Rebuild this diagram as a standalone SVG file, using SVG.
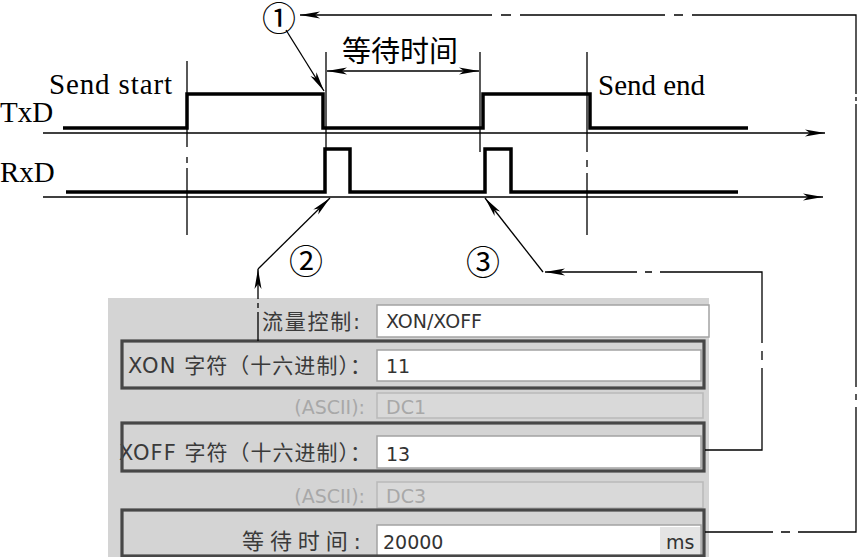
<svg xmlns="http://www.w3.org/2000/svg" width="858" height="557" viewBox="0 0 858 557">
<defs>
<marker id="arr" viewBox="-21 -5 22 10" refX="0" refY="0" markerWidth="22" markerHeight="10" markerUnits="userSpaceOnUse" orient="auto-start-reverse">
<path d="M-20,-3.5 L0,0 L-20,3.5 L-15,0 Z" fill="#000"/>
</marker>
<style>
.thin{fill:none;stroke:#000;stroke-width:1.3}
.wave{fill:none;stroke:#000;stroke-width:3.5;stroke-linejoin:miter}
.serif{font-family:"Liberation Serif","Times New Roman",serif;font-size:29px;fill:#000}
.cjk{font-family:"Noto Sans CJK SC",sans-serif;fill:#000}
.num{font-family:"Noto Sans CJK SC",sans-serif;font-size:34px;fill:#000;text-anchor:middle}
.ui{font-family:"DejaVu Sans","Noto Sans CJK SC",sans-serif;font-size:19px;fill:#333}
.lbl{font-family:"DejaVu Sans","Noto Sans CJK SC",sans-serif;font-size:21px;fill:#3a3a3a}
.dim{font-family:"DejaVu Sans",sans-serif;font-size:19px;fill:#a8a8a8}
.box{fill:none;stroke:#474747;stroke-width:3.2}
.field{fill:#fff;stroke:#a3a3a3;stroke-width:1.5}
.dfield{fill:#d9d9d9;stroke:#b9b9b9;stroke-width:1.5}
</style>
</defs>
<rect width="858" height="557" fill="#fff"/>

<g id="panel">
<rect x="108" y="298" width="601" height="259" fill="#d4d4d4"/>
<g id="row-flow">
<rect class="field" x="377" y="305" width="332" height="32"/>
<text class="lbl" x="262" y="329" textLength="98">流量控制:</text>
<text class="ui" x="386" y="328">XON/XOFF</text>
</g>
<g id="row-xon">
<rect class="field" x="377" y="350" width="324" height="31"/>
<text class="lbl" x="128" y="373" textLength="243">XON 字符（十六进制）：</text>
<text class="ui" x="386" y="373">11</text>
<rect class="box" x="122" y="341" width="582" height="47"/>
</g>
<g id="row-xon-ascii">
<rect class="dfield" x="377" y="393" width="326" height="25"/>
<text class="dim" x="365" y="414" text-anchor="end">(ASCII):</text>
<text class="dim" x="386" y="414">DC1</text>
</g>
<g id="row-xoff">
<rect class="field" x="377" y="436" width="324" height="32"/>
<text class="lbl" x="119" y="460" textLength="252">XOFF 字符（十六进制）：</text>
<text class="ui" x="386" y="461">13</text>
<rect class="box" x="122" y="423" width="582" height="48"/>
</g>
<g id="row-xoff-ascii">
<rect class="dfield" x="377" y="482" width="326" height="26"/>
<text class="dim" x="365" y="503" text-anchor="end">(ASCII):</text>
<text class="dim" x="386" y="503">DC3</text>
</g>
<g id="row-wait">
<rect class="field" x="377" y="525" width="324" height="34"/>
<rect x="660" y="527" width="40" height="30" fill="#e4e4e4"/>
<text class="lbl" x="242" y="549" style="font-size:22px" textLength="119">等待时间:</text>
<text class="ui" x="383" y="549">20000</text>
<text class="ui" x="666" y="549">ms</text>
<rect class="box" x="122" y="510" width="582" height="46"/>
</g>
</g>

<g id="txd">
<text class="serif" x="0" y="122">TxD</text>
<path class="thin" d="M43,133 H825" marker-end="url(#arr)"/>
<path class="wave" d="M63,128 H187 V94 H323 V128 H483 V94 H590 V128 H748"/>
</g>
<g id="rxd">
<text class="serif" x="0" y="182">RxD</text>
<path class="thin" d="M43,197 H823" marker-end="url(#arr)"/>
<path class="wave" d="M66,192 H325 V149 H350 V192 H485 V149 H511 V192 H738"/>
</g>
<g id="send-start">
<text class="serif" x="49" y="94" textLength="123">Send start</text>
<path class="thin" d="M187,61 V235" stroke-dasharray="86 10 6 5 200"/>
</g>
<g id="send-end">
<text class="serif" x="598" y="95">Send end</text>
<path class="thin" d="M587,52 V235" stroke-dasharray="100 8 7 6 200"/>
</g>
<g id="wait-dim">
<text class="cjk" x="342" y="62" style="font-size:29px" textLength="116">等待时间</text>
<path class="thin" d="M326,52 V148"/>
<path class="thin" d="M480,52 V152"/>
<path class="thin" d="M327,71 H479" marker-start="url(#arr)" marker-end="url(#arr)"/>
</g>
<g id="n1"><text class="num" x="279" y="31">①</text></g>
<g id="n2"><text class="num" x="306" y="274">②</text></g>
<g id="n3"><text class="num" x="483" y="275">③</text></g>

<g id="connectors">
<path class="thin" d="M705,532 H856 V15 H300" stroke-dasharray="68 8 9 8 183 7 6 7 283 3 4 3 243 9 9 9 145 9 10 9 400" marker-end="url(#arr)"/>
<path class="thin" d="M286,30 L324,91" marker-end="url(#arr)"/>
<path class="thin" d="M258,341 V269" stroke-dasharray="29 4 5 4 200" marker-end="url(#arr)"/>
<path class="thin" d="M258,269 L330,198" marker-end="url(#arr)"/>
<path class="thin" d="M705,450 H762 V272 H545" stroke-dasharray="139 8 9 8 173 8 7 8 300" marker-end="url(#arr)"/>
<path class="thin" d="M543,272 L485,198" marker-end="url(#arr)"/>
</g>
</svg>
